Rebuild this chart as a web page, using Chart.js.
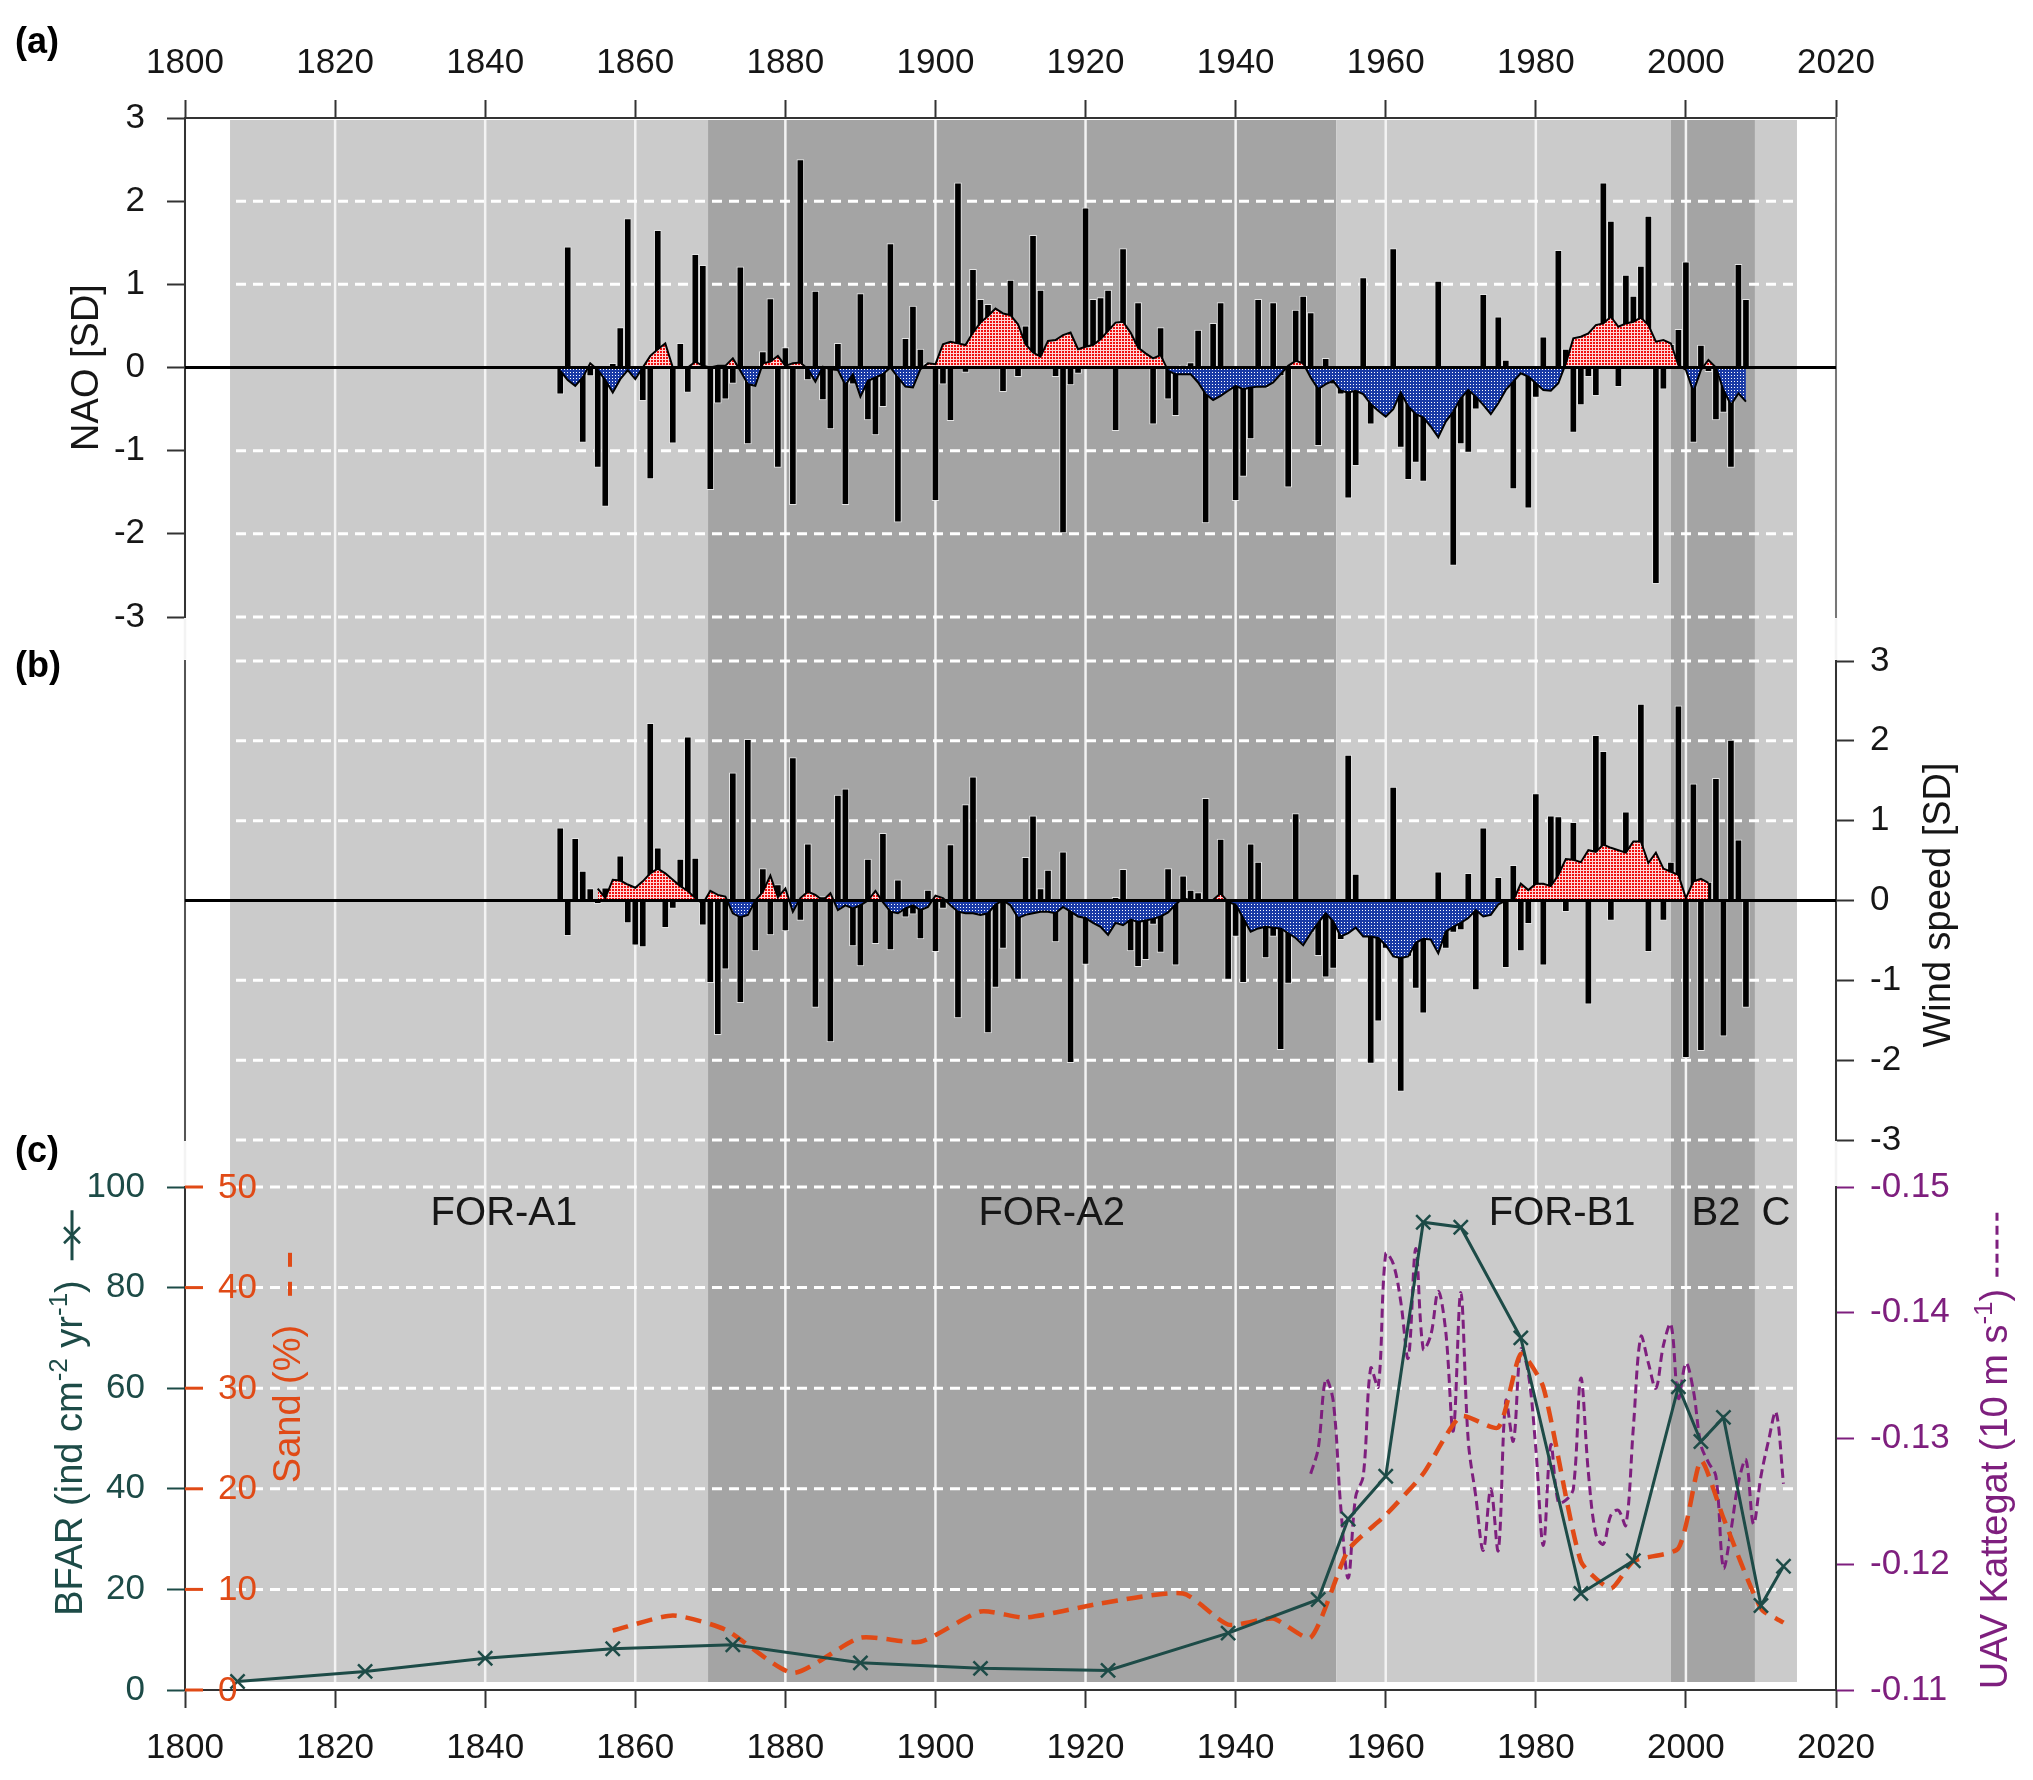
<!DOCTYPE html>
<html>
<head>
<meta charset="utf-8">
<title>NAO, wind speed and BFAR records</title>
<script src="https://cdn.jsdelivr.net/npm/chart.js@4.4.1/dist/chart.umd.min.js"></script>
<style>
  html, body { margin: 0; padding: 0; background: #fff; }
  #page { position: relative; width: 2033px; height: 1780px; overflow: hidden; }
  #page canvas { position: absolute; left: 0; }
  .tag { position: absolute; left: 15px; font: bold 36px 'Liberation Sans', Arial, sans-serif; line-height: 1; color: #000; }
</style>
</head>
<body>
<div id="page">
  <canvas id="panelA" width="2033" height="640" style="top:0px"></canvas>
  <canvas id="panelB" width="2033" height="525" style="top:640px"></canvas>
  <canvas id="panelC" width="2033" height="615" style="top:1165px"></canvas>
  <div class="tag" style="top:23px">(a)</div>
  <div class="tag" style="top:647px">(b)</div>
  <div class="tag" style="top:1132px">(c)</div>
</div>
<script>
// ---- data -------------------------------------------------------------
const yearTicks = [1800, 1820, 1840, 1860, 1880, 1900, 1920, 1940, 1960, 1980, 2000, 2020];
const sdTicks = [-3, -2, -1, 0, 1, 2, 3];
const bfarTicks = [0, 20, 40, 60, 80, 100];
const sandTicks = [0, 10, 20, 30, 40, 50];
const uavTicks = [-0.15, -0.14, -0.13, -0.12, -0.11];

// sediment zones
const zoneLabels = ['FOR-A1', 'FOR-A2', 'FOR-B1', 'B2', 'C'];
const zoneStart = [1806, 1869.7, 1953.4, 1998, 2009.2];
const zoneEnd = [1869.7, 1953.4, 1998, 2009.2, 2014.8];
const zoneLabelYear = [1842.5, 1915.5, 1983.5, 2004, 2012];

// (a) winter NAO index, 1850-2008, and its smoothed curve
const naoStartYear = 1850;
const naoIndex = [
  -0.32, 1.45, -0.15, -0.90, -0.10, -1.20, -1.67, 0.05, 0.48, 1.79,
  -0.10, -0.40, -1.34, 1.65, 0.20, -0.91, 0.29, -0.30, 1.36, 1.23,
  -1.47, -0.43, -0.38, -0.19, 1.21, -0.92, -0.10, 0.19, 0.83, -1.20,
  0.24, -1.65, 2.50, -0.15, 0.92, -0.39, -0.74, 0.29, -1.65, -0.20,
  0.89, -0.63, -0.81, -0.47, 1.49, -1.86, 0.35, 0.74, 0.22, 0.05,
  -1.60, -0.20, -0.64, 2.22, -0.06, 1.18, 0.82, 0.76, 0.40, -0.29,
  1.05, -0.11, 0.50, 1.59, 0.93, 0.20, -0.11, -1.99, -0.21, -0.07,
  1.92, 0.82, 0.84, 0.93, -0.76, 1.43, 0.30, 0.78, 0.10, -0.68,
  0.48, -0.38, -0.58, 0.03, 0.06, 0.45, -1.87, 0.53, 0.78, -0.20,
  -1.60, -1.31, -0.86, 0.82, -0.24, 0.78, -0.10, -1.44, 0.69, 0.86,
  0.66, -0.94, 0.11, -0.20, -0.32, -1.57, -1.18, 1.08, -0.68, -0.40,
  -0.50, 1.43, -0.96, -1.35, -1.14, -1.37, -0.60, 1.04, -0.60, -2.38,
  -0.92, -1.02, -0.50, 0.88, -0.30, 0.61, 0.09, -1.46, -0.05, -1.69,
  -0.36, 0.37, -0.20, 1.41, 0.22, -0.78, -0.45, -0.11, -0.34, 2.22,
  1.76, -0.23, 1.11, 0.86, 1.22, 1.82, -2.60, -0.26, 0.28, 0.46,
  1.27, -0.90, 0.27, -0.05, -0.63, -0.54, -1.20, 1.24, 0.82
];
const naoSmooth = [
  -0.04, -0.15, -0.22, -0.12, 0.05, -0.03, -0.15, -0.30, -0.14, -0.03,
  -0.14, 0.00, 0.14, 0.22, 0.29, 0.00, 0.00, 0.00, 0.07, 0.02,
  0.00, 0.02, 0.02, 0.11, -0.04, -0.20, -0.22, 0.05, 0.07, 0.14,
  0.02, 0.05, 0.06, -0.02, -0.17, 0.01, -0.02, -0.03, -0.21, -0.08,
  -0.35, -0.16, -0.12, -0.08, 0.00, -0.12, -0.23, -0.24, -0.02, 0.05,
  0.04, 0.28, 0.31, 0.29, 0.27, 0.42, 0.54, 0.62, 0.71, 0.65,
  0.63, 0.52, 0.28, 0.18, 0.13, 0.32, 0.33, 0.39, 0.42, 0.22,
  0.25, 0.27, 0.34, 0.44, 0.54, 0.55, 0.42, 0.24, 0.17, 0.11,
  0.15, -0.04, -0.08, -0.08, -0.08, -0.18, -0.32, -0.39, -0.34, -0.28,
  -0.22, -0.26, -0.24, -0.23, -0.23, -0.18, -0.08, 0.02, 0.08, 0.05,
  -0.12, -0.26, -0.20, -0.16, -0.28, -0.30, -0.28, -0.32, -0.44, -0.52,
  -0.59, -0.50, -0.30, -0.47, -0.56, -0.60, -0.71, -0.84, -0.65, -0.53,
  -0.37, -0.27, -0.35, -0.45, -0.56, -0.43, -0.27, -0.17, -0.07, -0.11,
  -0.19, -0.27, -0.28, -0.19, 0.05, 0.35, 0.37, 0.41, 0.51, 0.53,
  0.61, 0.49, 0.53, 0.55, 0.60, 0.51, 0.31, 0.33, 0.29, 0.03,
  -0.03, -0.29, -0.03, 0.09, 0.00, -0.27, -0.45, -0.31, -0.41
];

// (b) wind speed anomaly, 1850-2008, smoothed curve from 1855
const windStartYear = 1850;
const windIndex = [
  0.91, -0.44, 0.78, 0.37, 0.15, -0.04, 0.16, 0.10, 0.56, -0.28,
  -0.56, -0.58, 2.22, 0.66, -0.34, -0.10, 0.52, 2.05, 0.53, -0.31,
  -1.03, -1.68, -0.86, 1.60, -1.28, 2.02, -0.63, 0.40, -0.43, 0.20,
  -0.38, 1.79, -0.25, 0.71, -1.34, 0.05, -1.77, 1.32, 1.40, -0.57,
  -0.82, 0.52, -0.54, 0.84, -0.62, 0.26, -0.21, -0.17, -0.48, 0.13,
  -0.64, -0.10, 0.70, -1.47, 1.20, 1.55, -0.15, -1.66, -1.09, -0.60,
  -0.05, -0.99, 0.54, 1.06, 0.15, 0.38, -0.52, 0.61, -2.03, -0.20,
  -0.80, -0.20, -0.30, -0.30, 0.04, 0.39, -0.63, -0.83, -0.74, -0.30,
  -0.65, 0.40, -0.81, 0.31, 0.13, 0.10, 1.28, 0.02, 0.77, -0.99,
  -0.45, -1.03, 0.71, 0.48, -0.72, -0.45, -1.87, -1.04, 1.09, -0.50,
  -0.40, -0.69, -0.96, -0.85, -0.49, 1.82, 0.33, -0.40, -2.04, -1.51,
  -0.60, 1.42, -2.39, -0.70, -1.10, -1.41, -0.50, 0.36, -0.60, -0.40,
  -0.37, 0.34, -1.12, 0.91, -0.10, 0.29, -0.84, 0.44, -0.63, -0.29,
  1.34, -0.81, 1.06, 1.05, -0.14, 0.98, 0.20, -1.30, 2.07, 1.87,
  -0.25, 0.30, 1.11, 0.40, 2.46, -0.64, 0.30, -0.25, 0.48, 2.44,
  -1.97, 1.46, -1.88, 0.23, 1.53, -1.70, 2.01, 0.76, -1.34
];
const windSmoothStartYear = 1855;
const windSmooth = [
  0.15, 0.03, 0.26, 0.25, 0.20,
  0.16, 0.24, 0.34, 0.40, 0.34, 0.26, 0.18, 0.12, 0.03, -0.04,
  0.12, 0.07, 0.05, -0.16, -0.21, -0.18, 0.00, 0.11, 0.31, 0.04,
  0.15, -0.14, 0.03, 0.11, 0.07, 0.00, 0.09, -0.12, -0.06, -0.10,
  -0.06, 0.00, 0.12, -0.02, -0.14, -0.16, -0.10, -0.06, -0.12, -0.08,
  0.06, 0.03, -0.06, -0.14, -0.16, -0.16, -0.18, -0.16, -0.05, 0.00,
  -0.06, -0.22, -0.18, -0.16, -0.14, -0.14, -0.16, -0.08, -0.14, -0.20,
  -0.22, -0.28, -0.33, -0.43, -0.28, -0.31, -0.24, -0.27, -0.25, -0.23,
  -0.20, -0.15, -0.05, 0.03, 0.00, 0.00, 0.00, 0.01, 0.09, -0.02,
  -0.05, -0.22, -0.39, -0.35, -0.33, -0.34, -0.35, -0.41, -0.47, -0.56,
  -0.41, -0.28, -0.16, -0.26, -0.45, -0.41, -0.34, -0.45, -0.45, -0.47,
  -0.56, -0.70, -0.72, -0.70, -0.53, -0.48, -0.49, -0.66, -0.39, -0.33,
  -0.28, -0.22, -0.12, -0.20, -0.18, -0.05, 0.00, 0.00, 0.21, 0.13,
  0.21, 0.21, 0.18, 0.32, 0.52, 0.51, 0.48, 0.63, 0.61, 0.70,
  0.66, 0.63, 0.60, 0.74, 0.74, 0.47, 0.60, 0.40, 0.36, 0.32,
  0.03, 0.24, 0.27, 0.22
];

// (c) BFAR, sand content and UAV Kattegat
const bfarYears = [1807, 1824, 1840, 1857, 1873, 1890, 1906, 1923, 1939, 1951, 1955,
  1960, 1965, 1970, 1978, 1986, 1993, 1999, 2002, 2005, 2010, 2013];
const bfarValues = [1.7, 3.7, 6.3, 8.2, 9.0, 5.4, 4.3, 3.9, 11.3, 18.0, 34.0,
  42.5, 93.0, 92.0, 70.0, 19.2, 25.7, 60.3, 49.4, 54.2, 16.8, 24.6];

const sandYears = [1857, 1865, 1872, 1881, 1890, 1898, 1906, 1912, 1922, 1933, 1939, 1945, 1950,
  1955, 1960, 1965, 1970, 1975, 1978, 1981, 1986, 1990, 1993, 1999, 2002, 2005, 2010, 2013];
const sandValues = [5.9, 7.4, 6.0, 1.7, 5.2, 4.8, 7.8, 7.2, 8.6, 9.6, 6.5, 7.1, 5.2,
  13.9, 17.4, 21.5, 27.2, 26.1, 33.4, 30.1, 12.8, 10.1, 12.8, 14.1, 22.8, 17.1, 8.1, 6.7];

const uavStartYear = 1950;
const uavValues = [
  -0.1272, -0.1292, -0.1347, -0.1330, -0.1246, -0.1189, -0.1254, -0.1270, -0.1356, -0.1341,
  -0.1447, -0.1439, -0.1409, -0.1364, -0.1451, -0.1371, -0.1382, -0.1417, -0.1385, -0.1306,
  -0.1416, -0.1298, -0.1254, -0.1211, -0.1260, -0.1211, -0.1330, -0.1298, -0.1371, -0.1352,
  -0.1292, -0.1215, -0.1295, -0.1249, -0.1251, -0.1260, -0.1348, -0.1273, -0.1224, -0.1216,
  -0.1239, -0.1243, -0.1231, -0.1309, -0.1381, -0.1360, -0.1340, -0.1374, -0.1391, -0.1332,
  -0.1360, -0.1338, -0.1295, -0.1281, -0.1270, -0.1197, -0.1227, -0.1265, -0.1283, -0.1232,
  -0.1270, -0.1298, -0.1321, -0.1264
];

// ---- styling ----------------------------------------------------------
const FONT = "'Liberation Sans', Arial, Helvetica, sans-serif";
const INK = '#161616';
const TEAL = '#1d4b47';
const ORANGE = '#e04a16';
const PURPLE = '#7e1f7e';
const SHADE = ['#cbcbcb', '#a4a4a4'];
const tickFont = { size: 35, family: FONT };

const series = (start, values) => values.map((v, i) => ({ x: start + i, y: v }));
const pairs = (xs, ys) => xs.map((x, i) => ({ x, y: ys[i] }));

function dots(bg, dot, cell, size) {
  const c = document.createElement('canvas');
  c.width = cell; c.height = cell;
  const g = c.getContext('2d');
  g.fillStyle = bg; g.fillRect(0, 0, cell, cell);
  g.fillStyle = dot; g.fillRect(0, 0, size, size);
  return g.createPattern(c, 'repeat');
}
const redDots = dots('#ffd6d6', '#f01010', 3, 2);
const blueDots = dots('#1a3aa6', '#ffffff', 3, 1);

function zeroPad(s) {
  s.paddingLeft = 0; s.paddingRight = 0; s.paddingTop = 0; s.paddingBottom = 0;
}

function yearAxis(position, height, show) {
  return {
    type: 'linear', position, min: 1800, max: 2020, display: show, offset: false,
    afterBuildTicks: s => { s.ticks = yearTicks.map(v => ({ value: v })); },
    ticks: { color: INK, font: tickFont, padding: position === 'top' ? 16 : 19,
      maxRotation: 0, autoSkip: false, callback: v => String(v) },
    grid: { offset: false, drawOnChartArea: false, tickLength: 18, tickColor: '#333', tickWidth: 2 },
    border: { color: '#333', width: 2 },
    afterFit: s => { s.height = height; zeroPad(s); }
  };
}

function valueAxis(position, width, ticks, color, tickColor, extra) {
  return Object.assign({
    type: 'linear', position,
    min: ticks[0], max: ticks[ticks.length - 1],
    afterBuildTicks: s => { s.ticks = ticks.map(v => ({ value: v })); },
    ticks: { color, font: tickFont, padding: position === 'left' ? 22 : 16 },
    grid: { drawOnChartArea: false, tickLength: 18, tickColor, tickWidth: 2 },
    border: { color: '#333', width: 2 },
    afterFit: s => { s.width = width; zeroPad(s); }
  }, extra || {});
}

function frameAxis(position, width, color) {
  return {
    type: 'linear', position, min: -3, max: 3,
    ticks: { display: false },
    grid: { drawOnChartArea: false, drawTicks: false },
    border: { color, width: 2 },
    afterFit: s => { s.width = width; zeroPad(s); }
  };
}

// grey zone bands, white year lines and dashed value lines
function backdrop(yId, skip, top, bottom) {
  return {
    id: 'backdrop',
    beforeDraw(chart) {
      const { ctx, chartArea: area, scales } = chart;
      const x = scales.x, y = scales[yId];
      const y0 = top(chart), y1 = bottom(chart);
      ctx.save();
      zoneStart.forEach((s, i) => {
        const l = x.getPixelForValue(s), r = x.getPixelForValue(zoneEnd[i]);
        ctx.fillStyle = SHADE[i % 2];
        ctx.fillRect(l, y0, r - l, y1 - y0);
      });
      ctx.strokeStyle = '#f3f3f3';
      ctx.lineWidth = 2.5;
      yearTicks.forEach(v => {
        const px = x.getPixelForValue(v);
        ctx.beginPath(); ctx.moveTo(px, y0); ctx.lineTo(px, y1); ctx.stroke();
      });
      ctx.strokeStyle = '#ffffff';
      ctx.lineWidth = 3;
      ctx.setLineDash([10, 7]);
      y.ticks.forEach(t => {
        if (skip.includes(t.value)) return;
        const py = y.getPixelForValue(t.value);
        ctx.beginPath(); ctx.moveTo(area.left, py); ctx.lineTo(area.right, py); ctx.stroke();
      });
      ctx.restore();
    }
  };
}

function zeroLine(yId) {
  return {
    id: 'zeroLine',
    afterDatasetsDraw(chart) {
      const { ctx, chartArea: a } = chart;
      const py = chart.scales[yId].getPixelForValue(0);
      ctx.save();
      ctx.strokeStyle = '#000';
      ctx.lineWidth = 3;
      ctx.beginPath(); ctx.moveTo(a.left, py); ctx.lineTo(a.right, py); ctx.stroke();
      ctx.restore();
    }
  };
}

// rotated axis title (reads bottom to top), with optional superscripts and legend key
function drawTitle(ctx, cx, cy, parts, color, size, key) {
  ctx.save();
  ctx.translate(cx, cy);
  ctx.rotate(-Math.PI / 2);
  ctx.fillStyle = color;
  ctx.strokeStyle = color;
  ctx.textBaseline = 'middle';
  ctx.textAlign = 'left';
  const big = `${size}px ${FONT}`, small = `${Math.round(size * 0.68)}px ${FONT}`;
  let w = 0;
  parts.forEach(p => { ctx.font = p.sup ? small : big; w += ctx.measureText(p.t).width; });
  let x = -w / 2;
  parts.forEach(p => {
    ctx.font = p.sup ? small : big;
    ctx.fillText(p.t, x, p.sup ? -size * 0.32 : 0);
    x += ctx.measureText(p.t).width;
  });
  if (key) key(ctx, x);
  ctx.restore();
}

function segment(ctx, x0, x1, width, dash) {
  ctx.lineWidth = width;
  ctx.setLineDash(dash || []);
  ctx.beginPath(); ctx.moveTo(x0, 0); ctx.lineTo(x1, 0); ctx.stroke();
  ctx.setLineDash([]);
}

const common = {
  responsive: false,
  maintainAspectRatio: false,
  animation: false,
  devicePixelRatio: 1,
  events: [],
  plugins: { legend: { display: false }, tooltip: { enabled: false } }
};

// ---- (a) NAO ----------------------------------------------------------
new Chart(document.getElementById('panelA'), {
  type: 'bar',
  data: {
    datasets: [
      { type: 'line', data: series(naoStartYear, naoSmooth), yAxisID: 'y',
        borderColor: '#000', borderWidth: 2, pointRadius: 0, tension: 0,
        fill: { target: 'origin', above: redDots, below: blueDots }, order: 0 },
      { type: 'bar', data: series(naoStartYear, naoIndex), yAxisID: 'y',
        backgroundColor: '#000', borderColor: '#e4e4e4', borderWidth: 1,
        borderSkipped: false, barThickness: 7, order: 1 }
    ]
  },
  options: Object.assign({}, common, {
    layout: { padding: { top: 0, bottom: 23, left: 0, right: 0 } },
    scales: {
      x: yearAxis('top', 118, true),
      y: valueAxis('left', 185, sdTicks, INK, '#333'),
      yR: frameAxis('right', 197, '#777')
    }
  }),
  plugins: [
    backdrop('y', [0, 3], c => c.chartArea.top + 2, c => c.height),
    zeroLine('y'),
    { id: 'titles', afterDraw(chart) {
        const a = chart.chartArea;
        drawTitle(chart.ctx, 88, (a.top + a.bottom) / 2, [{ t: 'NAO [SD]' }], INK, 38);
    } }
  ]
});

// ---- (b) wind speed ---------------------------------------------------
new Chart(document.getElementById('panelB'), {
  type: 'bar',
  data: {
    datasets: [
      { type: 'line', data: series(windSmoothStartYear, windSmooth), yAxisID: 'yW',
        borderColor: '#000', borderWidth: 2, pointRadius: 0, tension: 0,
        fill: { target: 'origin', above: redDots, below: blueDots }, order: 0 },
      { type: 'bar', data: series(windStartYear, windIndex), yAxisID: 'yW',
        backgroundColor: '#000', borderColor: '#e4e4e4', borderWidth: 1,
        borderSkipped: false, barThickness: 7, order: 1 }
    ]
  },
  options: Object.assign({}, common, {
    layout: { padding: { top: 21, bottom: 25, left: 0, right: 0 } },
    scales: {
      x: yearAxis('bottom', 0, false),
      yL: frameAxis('left', 185, '#555'),
      yW: valueAxis('right', 197, sdTicks, INK, '#333')
    }
  }),
  plugins: [
    backdrop('yW', [0], () => 0, c => c.height),
    zeroLine('yW'),
    { id: 'titles', afterDraw(chart) {
        const a = chart.chartArea;
        drawTitle(chart.ctx, 1940, a.top + 244, [{ t: 'Wind speed [SD]' }], INK, 38);
    } }
  ]
});

// ---- (c) BFAR, sand, UAV ----------------------------------------------
new Chart(document.getElementById('panelC'), {
  type: 'line',
  data: {
    datasets: [
      { data: pairs(bfarYears, bfarValues), yAxisID: 'yB',
        borderColor: TEAL, borderWidth: 3, tension: 0,
        pointStyle: 'crossRot', pointRadius: 10, pointBorderWidth: 2.5,
        pointBorderColor: TEAL, pointBackgroundColor: TEAL, order: 0 },
      { data: pairs(sandYears, sandValues), yAxisID: 'yS',
        borderColor: ORANGE, borderWidth: 4.5, borderDash: [16, 9], tension: 0.2,
        pointRadius: 0, order: 1 },
      { data: series(uavStartYear, uavValues), yAxisID: 'yU',
        borderColor: PURPLE, borderWidth: 3, borderDash: [9, 5], tension: 0.35,
        pointRadius: 0, order: 2 }
    ]
  },
  options: Object.assign({}, common, {
    layout: { padding: { top: 22, bottom: 0, left: 0, right: 0 } },
    scales: {
      x: yearAxis('bottom', 90, true),
      yB: valueAxis('left', 185, bfarTicks, TEAL, TEAL, {}),
      yS: { type: 'linear', display: false, min: 0, max: 50 },
      yU: valueAxis('right', 197, uavTicks, PURPLE, PURPLE, { reverse: true })
    }
  }),
  plugins: [
    backdrop('yB', [0], () => 0, c => c.chartArea.bottom - 8),
    { id: 'decor', afterDraw(chart) {
        const { ctx, chartArea: a, scales } = chart;
        // sand axis ticks and labels just inside the left axis
        ctx.save();
        ctx.strokeStyle = ORANGE; ctx.fillStyle = ORANGE;
        ctx.lineWidth = 3;
        ctx.font = `35px ${FONT}`;
        ctx.textAlign = 'left'; ctx.textBaseline = 'middle';
        sandTicks.forEach(v => {
          const py = scales.yS.getPixelForValue(v);
          ctx.beginPath(); ctx.moveTo(a.left, py); ctx.lineTo(a.left + 18, py); ctx.stroke();
          ctx.fillText(String(v), a.left + 33, py + 1);
        });
        // zone names
        ctx.fillStyle = INK;
        ctx.font = `40px ${FONT}`;
        ctx.textAlign = 'center';
        zoneLabels.forEach((z, i) => {
          ctx.fillText(z, scales.x.getPixelForValue(zoneLabelYear[i]), a.top + 27);
        });
        ctx.restore();

        drawTitle(ctx, 72, a.top + 261,
          [{ t: 'BFAR (ind cm' }, { t: '-2', sup: true }, { t: ' yr' }, { t: '-1', sup: true }, { t: ')' }],
          TEAL, 38, (c, x) => {
            const s = x + 20, e = s + 50, m = (s + e) / 2;
            segment(c, s, e, 3);
            c.lineWidth = 2.5;
            c.beginPath();
            c.moveTo(m - 8, -8); c.lineTo(m + 8, 8);
            c.moveTo(m - 8, 8); c.lineTo(m + 8, -8);
            c.stroke();
          });
        drawTitle(ctx, 290, a.top + 217, [{ t: 'Sand (%)' }], ORANGE, 38, (c, x) => {
          segment(c, x + 29, x + 43, 4);
          segment(c, x + 58, x + 72, 4);
        });
        drawTitle(ctx, 1997, a.top + 302,
          [{ t: 'UAV Kattegat (10 m s' }, { t: '-1', sup: true }, { t: ')' }],
          PURPLE, 38, (c, x) => segment(c, x + 12, x + 76, 3, [9, 5]));
    } }
  ]
});
</script>
</body>
</html>
